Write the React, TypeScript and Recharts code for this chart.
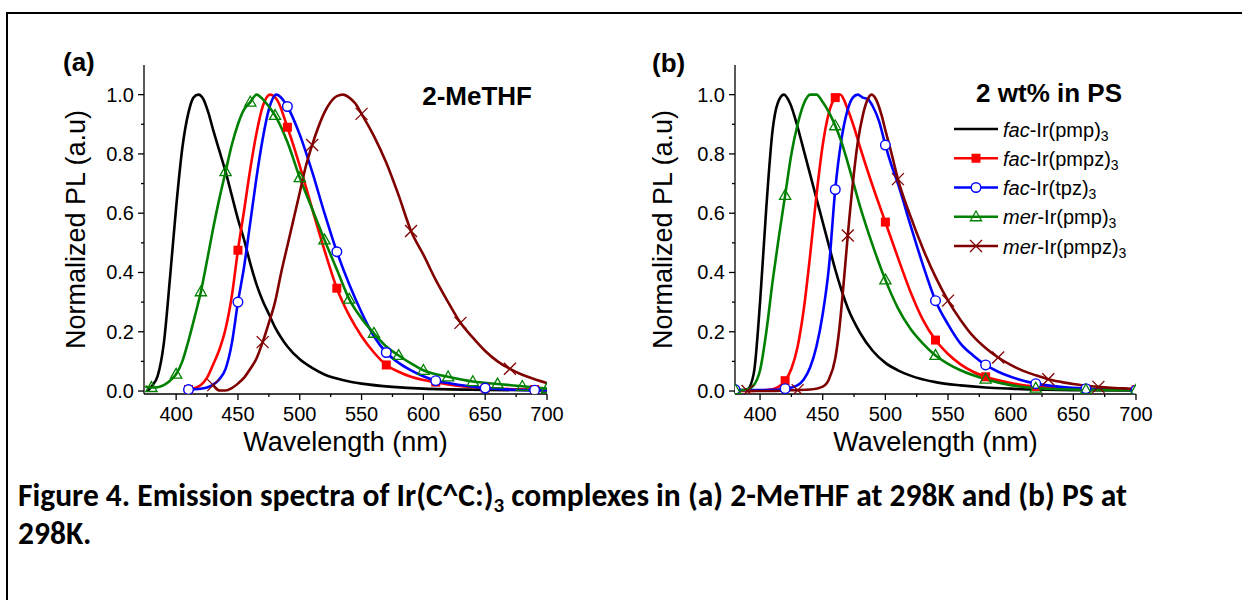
import React from "react";
import { LineChart, Line, XAxis, YAxis, Label } from "recharts";

// Emission spectra, normalized PL vs wavelength (nm).

// ---- (a) 2-MeTHF ----
const aPmpWl = [377, 380, 385, 390, 395, 400, 405, 410, 414, 418, 422, 426, 430, 435, 440, 445, 450, 455, 460, 465, 470, 475, 480, 485, 490, 500, 510, 520, 530, 540, 550, 575, 600, 650, 700];
const aPmpPl = [0.0, 0.015, 0.05, 0.16, 0.38, 0.62, 0.82, 0.94, 0.99, 1.0, 0.985, 0.94, 0.88, 0.81, 0.74, 0.66, 0.58, 0.51, 0.43, 0.36, 0.305, 0.26, 0.215, 0.18, 0.15, 0.107, 0.078, 0.056, 0.042, 0.032, 0.025, 0.014, 0.008, 0.004, 0.002];

const aPmpzWl = [410, 415, 420, 425, 430, 435, 440, 445, 450, 455, 460, 465, 470, 476, 482, 490, 500, 510, 520, 530, 540, 550, 560, 570, 580, 590, 600, 610, 620, 650, 690, 700];
const aPmpzPl = [0.005, 0.01, 0.02, 0.045, 0.09, 0.14, 0.21, 0.32, 0.475, 0.61, 0.75, 0.87, 0.96, 1.0, 0.98, 0.89, 0.76, 0.615, 0.475, 0.347, 0.255, 0.185, 0.13, 0.088, 0.065, 0.048, 0.037, 0.03, 0.022, 0.01, 0.005, 0.004];

const aTpzWl = [410, 415, 420, 425, 430, 435, 440, 445, 450, 455, 460, 465, 470, 475, 481, 486, 490, 500, 510, 520, 530, 540, 550, 560, 570, 580, 590, 600, 610, 620, 650, 690, 700];
const aTpzPl = [0.005, 0.006, 0.008, 0.012, 0.022, 0.04, 0.075, 0.16, 0.3, 0.42, 0.57, 0.72, 0.85, 0.95, 1.0, 0.985, 0.96, 0.865, 0.74, 0.6, 0.47, 0.36, 0.265, 0.185, 0.13, 0.095, 0.07, 0.05, 0.035, 0.027, 0.01, 0.003, 0.003];

const aMerPmpWl = [375, 380, 385, 390, 395, 400, 405, 410, 415, 420, 425, 430, 435, 440, 445, 450, 455, 460, 465, 470, 475, 480, 490, 500, 510, 520, 530, 540, 550, 560, 570, 580, 590, 600, 620, 640, 660, 680, 700];
const aMerPmpPl = [0.015, 0.012, 0.013, 0.02, 0.035, 0.057, 0.1, 0.17, 0.25, 0.335, 0.44, 0.55, 0.65, 0.74, 0.83, 0.9, 0.95, 0.975, 1.0, 0.985, 0.96, 0.93, 0.84, 0.72, 0.615, 0.51, 0.41, 0.31, 0.245, 0.195, 0.15, 0.12, 0.093, 0.07, 0.048, 0.032, 0.024, 0.016, 0.008];

const aMerPmpzWl = [430, 435, 440, 445, 450, 455, 460, 465, 470, 475, 480, 485, 490, 495, 500, 505, 510, 515, 520, 525, 530, 535, 540, 545, 550, 560, 570, 580, 590, 600, 610, 620, 630, 640, 650, 660, 670, 680, 690, 700];
const aMerPmpzPl = [0.02, 0.002, 0.002, 0.01, 0.025, 0.045, 0.075, 0.11, 0.165, 0.23, 0.3, 0.4, 0.49, 0.58, 0.67, 0.76, 0.83, 0.89, 0.94, 0.975, 0.995, 1.0, 0.99, 0.97, 0.935, 0.86, 0.77, 0.66, 0.54, 0.46, 0.375, 0.3, 0.23, 0.18, 0.135, 0.1, 0.075, 0.055, 0.04, 0.027];

// symbol positions (a)
const aPmpzMarks = [410, 450, 490, 530, 570, 610, 650, 690];
const aTpzMarks = [410, 450, 490, 530, 570, 610, 650, 690];
const aMerPmpMarks = [380, 400, 420, 440, 460, 480, 500, 520, 540, 560, 580, 600, 620, 640, 660, 680, 700];
const aMerPmpzMarks = [430, 470, 510, 550, 590, 630, 670];

// ---- (b) 2 wt% in PS ----
const bPmpWl = [380, 385, 390, 395, 400, 405, 410, 414, 419, 424, 430, 435, 440, 445, 450, 455, 460, 465, 470, 480, 490, 500, 510, 520, 540, 560, 580, 600, 650, 700];
const bPmpPl = [0.0, 0.002, 0.006, 0.06, 0.3, 0.62, 0.88, 0.97, 1.0, 0.97, 0.89, 0.81, 0.73, 0.65, 0.57, 0.49, 0.41, 0.34, 0.28, 0.195, 0.135, 0.095, 0.07, 0.052, 0.03, 0.019, 0.012, 0.008, 0.003, 0.002];

const bPmpzWl = [380, 390, 400, 410, 415, 420, 425, 430, 435, 440, 445, 450, 455, 460, 464, 470, 475, 480, 490, 500, 510, 520, 530, 540, 550, 560, 570, 580, 600, 620, 640, 660, 680, 700];
const bPmpzPl = [0.0, 0.0, 0.002, 0.006, 0.015, 0.035, 0.075, 0.15, 0.28, 0.46, 0.66, 0.83, 0.94, 0.99, 1.0, 0.95, 0.89, 0.82, 0.69, 0.57, 0.45, 0.335, 0.24, 0.172, 0.125, 0.09, 0.065, 0.048, 0.027, 0.015, 0.01, 0.006, 0.005, 0.004];

const bTpzWl = [380, 390, 400, 410, 420, 430, 435, 440, 445, 450, 455, 460, 465, 470, 474, 478, 482, 486, 490, 495, 500, 505, 510, 520, 530, 540, 550, 560, 570, 580, 590, 600, 620, 640, 660, 680, 700];
const bTpzPl = [0.005, 0.003, 0.003, 0.004, 0.008, 0.02, 0.04, 0.08, 0.15, 0.26, 0.42, 0.68, 0.85, 0.95, 0.99, 1.0, 0.99, 0.985, 0.96, 0.91, 0.83, 0.76, 0.7, 0.56, 0.425, 0.305, 0.225, 0.16, 0.12, 0.088, 0.065, 0.048, 0.025, 0.014, 0.008, 0.005, 0.003];

const bMerPmpWl = [380, 385, 390, 395, 400, 405, 410, 415, 420, 425, 430, 435, 440, 445, 450, 455, 460, 465, 470, 480, 490, 500, 510, 520, 530, 540, 550, 560, 580, 600, 620, 660, 700];
const bMerPmpPl = [0.005, 0.003, 0.006, 0.02, 0.07, 0.2, 0.37, 0.52, 0.66, 0.8, 0.9, 0.97, 1.0, 1.0, 0.975, 0.94, 0.895, 0.84, 0.77, 0.62, 0.49, 0.375, 0.28, 0.21, 0.16, 0.12, 0.092, 0.07, 0.04, 0.02, 0.01, 0.004, 0.003];

const bMerPmpzWl = [390, 400, 410, 420, 430, 440, 450, 455, 460, 463, 466, 470, 474, 478, 482, 485, 489, 493, 497, 500, 505, 510, 520, 530, 540, 550, 560, 570, 580, 590, 600, 610, 620, 630, 640, 650, 660, 670, 680, 690, 700];
const bMerPmpzPl = [0.0, 0.0, 0.0, 0.002, 0.003, 0.005, 0.015, 0.04, 0.11, 0.2, 0.33, 0.525, 0.7, 0.84, 0.93, 0.975, 1.0, 0.98, 0.93, 0.88, 0.8, 0.715, 0.59, 0.48, 0.385, 0.305, 0.24, 0.185, 0.145, 0.113, 0.088, 0.068, 0.053, 0.04, 0.031, 0.024, 0.018, 0.014, 0.011, 0.009, 0.007];

// symbol positions (b)
const bPmpzMarks = [380, 420, 460, 500, 540, 580, 620, 660, 700];
const bTpzMarks = [380, 420, 460, 500, 540, 580, 620, 660, 700];
const bMerPmpMarks = [380, 420, 460, 500, 540, 580, 620, 660, 700];
const bMerPmpzMarks = [390, 430, 470, 510, 550, 590, 630, 670];

// axes
const aWlDomain = [374, 700];
const bWlDomain = [380, 700];
const plDomain = [-0.01, 1.1];
const aWlTicks = [400, 425, 450, 475, 500, 525, 550, 575, 600, 625, 650, 675, 700];
const bWlTicks = [400, 425, 450, 475, 500, 525, 550, 575, 600, 625, 650, 675, 700];
const plTicks = [0, 0.1, 0.2, 0.3, 0.4, 0.5, 0.6, 0.7, 0.8, 0.9, 1.0];

const legendPrefix = ["fac", "fac", "fac", "mer", "mer"];
const legendBody = ["-Ir(pmp)", "-Ir(pmpz)", "-Ir(tpz)", "-Ir(pmp)", "-Ir(pmpz)"];

const COLORS = ["#000000", "#ff0000", "#0000ff", "#008000", "#800000"];
const SHAPES = ["none", "square", "circle", "triangle", "cross"];

const FONT = '"Liberation Sans", Arial, Helvetica, sans-serif';
const CAPTION_FONT = 'Carlito, Lato, Calibri, sans-serif';
const AXIS = { stroke: "#000", strokeWidth: 1.3 };

const zip = (wl: number[], pl: number[]) => wl.map((w, i) => ({ wl: w, pl: pl[i] }));

const Marker = ({ shape, x, y, color }: any) => {
  if (shape === "square") return <rect x={x - 4.5} y={y - 4.5} width={9} height={9} fill={color} />;
  if (shape === "circle") return <circle cx={x} cy={y} r={4.8} fill="#fff" stroke={color} strokeWidth={1.4} />;
  if (shape === "triangle")
    return <path d={`M${x},${y - 5.8} L${x + 5.6},${y + 4} L${x - 5.6},${y + 4} Z`} fill="none" stroke={color} strokeWidth={1.3} />;
  if (shape === "cross")
    return (
      <g stroke={color} strokeWidth={1.3}>
        <line x1={x - 6} y1={y - 6} x2={x + 6} y2={y + 6} />
        <line x1={x - 6} y1={y + 6} x2={x + 6} y2={y - 6} />
      </g>
    );
  return null;
};

const makeDot = (id: string, shape: string, color: string, marks: number[]) => (p: any) => {
  const k = `${id}-${p.index}`;
  if (!p.payload || !marks.includes(p.payload.wl) || p.cx == null) return <g key={k} />;
  return (
    <g key={k}>
      <Marker shape={shape} x={p.cx} y={p.cy} color={color} />
    </g>
  );
};

const BottomTick = ({ x, y, payload }: any) => {
  const major = payload.value % 50 === 0;
  return (
    <g>
      <line x1={x} x2={x} y1={y} y2={y + (major ? 6 : 3)} stroke="#000" strokeWidth={1.3} />
      {major && (
        <text x={x} y={y + 27} textAnchor="middle" fontSize={20} fontFamily={FONT} fill="#000">
          {payload.value}
        </text>
      )}
    </g>
  );
};

const TopTick = ({ x, y, payload }: any) => {
  const major = payload.value % 50 === 0;
  return <line x1={x} x2={x} y1={y} y2={y + (major ? 6 : 3)} stroke="#000" strokeWidth={1.3} />;
};

const isMajorPl = (v: number) => Math.round(v * 10) % 2 === 0;

const LeftTick = ({ x, y, payload }: any) => {
  const major = isMajorPl(payload.value);
  return (
    <g>
      <line x1={x - (major ? 6 : 3)} x2={x} y1={y} y2={y} stroke="#000" strokeWidth={1.3} />
      {major && (
        <text x={x - 10} y={y + 7} textAnchor="end" fontSize={20} fontFamily={FONT} fill="#000">
          {payload.value.toFixed(1)}
        </text>
      )}
    </g>
  );
};

const RightTick = ({ x, y, payload }: any) => {
  const major = isMajorPl(payload.value);
  return <line x1={x - (major ? 6 : 3)} x2={x} y1={y} y2={y} stroke="#000" strokeWidth={1.3} />;
};

type Series = { id: string; data: { wl: number; pl: number }[]; marks: number[] };

const Panel = ({ series, domain, ticks, yAxisWidth, margin, width }: any) => (
  <LineChart width={width} height={470} margin={margin}>
    <XAxis
      xAxisId="bottom"
      dataKey="wl"
      type="number"
      domain={domain}
      ticks={ticks}
      interval={0}
      allowDataOverflow
      height={57}
      tickSize={0}
      tickMargin={0}
      tickLine={false}
      axisLine={AXIS}
      tick={<BottomTick />}
    >
      <Label value="Wavelength (nm)" position="insideBottom" offset={0} style={{ fontSize: 27, fontFamily: FONT, fill: "#000" }} />
    </XAxis>
    <XAxis
      xAxisId="top"
      orientation="top"
      dataKey="wl"
      type="number"
      domain={domain}
      ticks={ticks}
      interval={0}
      allowDataOverflow
      height={0}
      tickSize={0}
      tickMargin={0}
      tickLine={false}
      axisLine={AXIS}
      tick={<TopTick />}
    />
    <YAxis
      yAxisId="left"
      type="number"
      domain={plDomain}
      ticks={plTicks}
      interval={0}
      allowDataOverflow
      width={yAxisWidth}
      tickSize={0}
      tickMargin={0}
      tickLine={false}
      axisLine={AXIS}
      tick={<LeftTick />}
    >
      <Label value="Normalized PL (a.u)" angle={-90} position="center" style={{ fontSize: 27, fontFamily: FONT, fill: "#000" }} />
    </YAxis>
    <YAxis
      yAxisId="right"
      orientation="right"
      type="number"
      domain={plDomain}
      ticks={plTicks}
      interval={0}
      allowDataOverflow
      width={0}
      tickSize={0}
      tickMargin={0}
      tickLine={false}
      axisLine={AXIS}
      tick={<RightTick />}
    />
    {series.map((s: Series, i: number) => (
      <Line
        key={s.id}
        xAxisId="bottom"
        yAxisId="left"
        data={s.data}
        dataKey="pl"
        type="monotone"
        stroke={COLORS[i]}
        strokeWidth={2.6}
        dot={makeDot(s.id, SHAPES[i], COLORS[i], s.marks)}
        activeDot={false}
        isAnimationActive={false}
      />
    ))}
  </LineChart>
);

const seriesA: Series[] = [
  { id: "a-pmp", data: zip(aPmpWl, aPmpPl), marks: [] },
  { id: "a-pmpz", data: zip(aPmpzWl, aPmpzPl), marks: aPmpzMarks },
  { id: "a-tpz", data: zip(aTpzWl, aTpzPl), marks: aTpzMarks },
  { id: "a-merpmp", data: zip(aMerPmpWl, aMerPmpPl), marks: aMerPmpMarks },
  { id: "a-merpmpz", data: zip(aMerPmpzWl, aMerPmpzPl), marks: aMerPmpzMarks },
];

const seriesB: Series[] = [
  { id: "b-pmp", data: zip(bPmpWl, bPmpPl), marks: [] },
  { id: "b-pmpz", data: zip(bPmpzWl, bPmpzPl), marks: bPmpzMarks },
  { id: "b-tpz", data: zip(bTpzWl, bTpzPl), marks: bTpzMarks },
  { id: "b-merpmp", data: zip(bMerPmpWl, bMerPmpPl), marks: bMerPmpMarks },
  { id: "b-merpmpz", data: zip(bMerPmpzWl, bMerPmpzPl), marks: bMerPmpzMarks },
];

export default function App() {
  return (
    <div style={{ position: "absolute", left: 0, top: 0, width: 1242, height: 600, background: "#fff", overflow: "hidden" }}>
      <div style={{ position: "absolute", left: 0, top: 0 }}>
        <Panel series={seriesA} domain={aWlDomain} ticks={aWlTicks} yAxisWidth={138} width={600} margin={{ top: 65, right: 53, bottom: 19, left: 6 }} />
      </div>
      <div style={{ position: "absolute", left: 590, top: 0 }}>
        <Panel series={seriesB} domain={bWlDomain} ticks={bWlTicks} yAxisWidth={145} width={610} margin={{ top: 65, right: 64, bottom: 19, left: 0 }} />
      </div>

      <svg width={1242} height={600} style={{ position: "absolute", left: 0, top: 0, pointerEvents: "none" }}>
        {/* frame */}
        <line x1={6} y1={13} x2={1242} y2={13} stroke="#000" strokeWidth={2} />
        <line x1={7} y1={12} x2={7} y2={600} stroke="#000" strokeWidth={2} />

        <g fontFamily={FONT} fontWeight="bold" fontSize={26} fill="#000">
          <text x={63} y={71}>(a)</text>
          <text x={532} y={105} textAnchor="end">2-MeTHF</text>
          <text x={652} y={72}>(b)</text>
          <text x={1122} y={102} textAnchor="end">2 wt% in PS</text>
        </g>

        {/* legend (b) */}
        <g fontFamily={FONT} fontSize={20} fill="#000">
          {legendBody.map((body, i) => {
            const y = 129 + i * 29.25;
            return (
              <g key={body + i}>
                <line x1={954} x2={998} y1={y} y2={y} stroke={COLORS[i]} strokeWidth={2.6} />
                <Marker shape={SHAPES[i]} x={976} y={y} color={COLORS[i]} />
                <text x={1003} y={y + 7.5}>
                  <tspan fontStyle="italic">{legendPrefix[i]}</tspan>
                  <tspan>{body}</tspan>
                  <tspan fontSize={14} dy={4}>3</tspan>
                </text>
              </g>
            );
          })}
        </g>

        {/* caption */}
        <g fontFamily={CAPTION_FONT} fontWeight={700} fontSize={31.5} fill="#000">
          <text x={18} y={506}>
            Figure 4. Emission spectra of Ir(C^C:)
            <tspan fontSize={21} dy={6}>3</tspan>
            <tspan dy={-6}> complexes in (a) 2-MeTHF at 298K and (b) PS at</tspan>
          </text>
          <text x={18} y={544}>298K.</text>
        </g>
      </svg>
    </div>
  );
}
